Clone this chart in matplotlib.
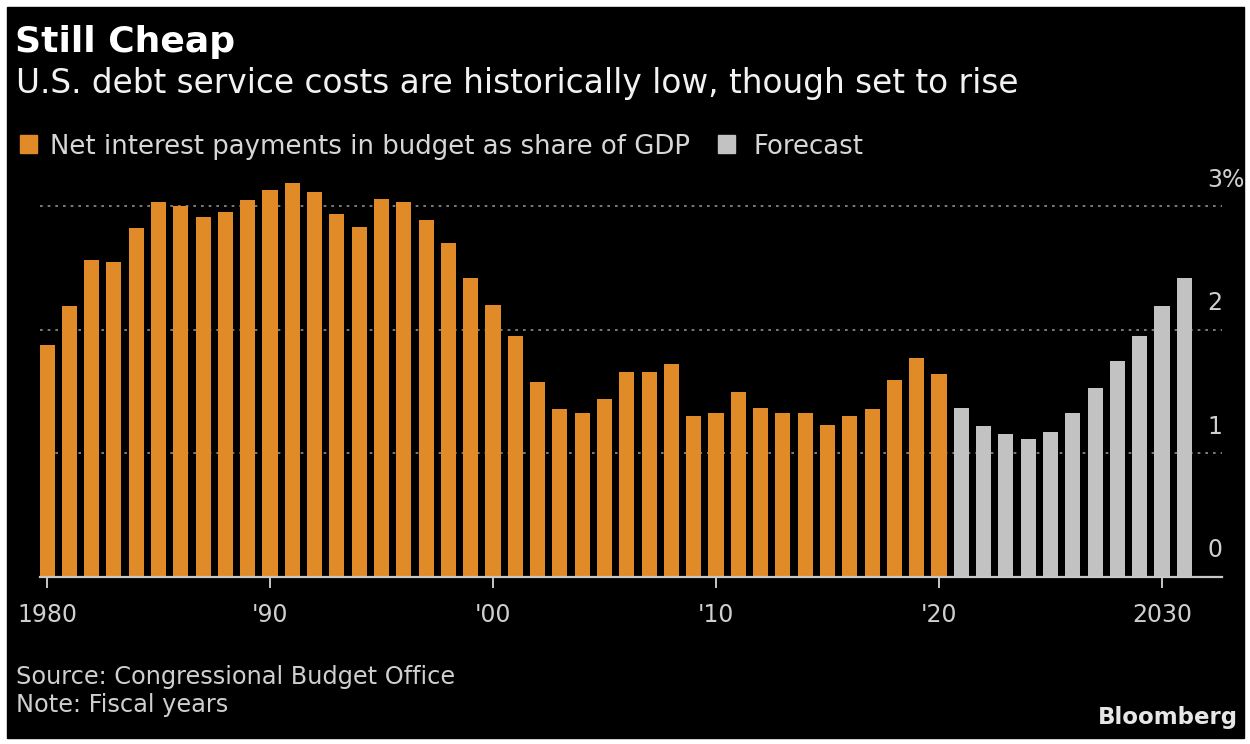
import numpy as np
import matplotlib
matplotlib.use("Agg")
import matplotlib.pyplot as plt
from matplotlib.patches import Rectangle
import matplotlib.transforms as mtransforms

W, H = 1250, 744
ORANGE = "#E08B27"
GREY = "#C2C2C2"

# net interest payments as share of GDP (%)
years_hist = np.arange(1980, 2021)
share_hist = [1.88, 2.19, 2.56, 2.55, 2.82, 3.03, 3.00, 2.91, 2.95, 3.05,
              3.13, 3.19, 3.11, 2.94, 2.83, 3.06, 3.03, 2.89, 2.70, 2.42,
              2.20, 1.95, 1.58, 1.36, 1.33, 1.44, 1.66, 1.66, 1.72, 1.30,
              1.33, 1.50, 1.37, 1.33, 1.33, 1.23, 1.30, 1.36, 1.59, 1.77,
              1.64]
years_fc = np.arange(2021, 2032)
share_fc = [1.37, 1.22, 1.16, 1.12, 1.17, 1.33, 1.53, 1.75, 1.95, 2.19, 2.42]

xtick_pos = [1980, 1990, 2000, 2010, 2020, 2030]
xtick_lab = ["1980", "'90", "'00", "'10", "'20", "2030"]
ytick_pos = [0, 1, 2, 3]
ytick_lab = ["0", "1", "2", "3%"]

plt.rcParams["font.family"] = ["DejaVu Sans"]

def fx(px):
    return px / W

def fy(py):
    return 1 - py / H

fig = plt.figure(figsize=(W / 100, H / 100), dpi=100, facecolor="white")
fig.add_artist(Rectangle((fx(7), fy(738)), fx(1244) - fx(7), fy(7) - fy(738),
                         transform=fig.transFigure, color="black", zorder=0))

ax = fig.add_axes([fx(40), fy(577), fx(1222) - fx(40), fy(169) - fy(577)])
ax.set_facecolor("none")
ax.bar(years_hist, share_hist, width=0.68, color=ORANGE, zorder=2)
ax.bar(years_fc, share_fc, width=0.68, color=GREY, zorder=2)
ax.set_xlim(1979.686, 2032.69)
ax.set_ylim(0, 3.3)

for v in ytick_pos[1:]:
    ax.axhline(v, color="#909090", lw=1.2, ls=(0, (1.6, 3.0)), zorder=1)
blend = mtransforms.blended_transform_factory(ax.transAxes, ax.transData)
for v, lab in zip(ytick_pos, ytick_lab):
    ax.text(0.9875, v + 0.215, lab, transform=blend, ha="left", va="center",
            fontsize=17, color="#CFCFCF")
ax.set_yticks([])

for s in ("top", "right", "left"):
    ax.spines[s].set_visible(False)
ax.spines["bottom"].set_color("#C8C8C8")
ax.spines["bottom"].set_linewidth(1.6)
ax.spines["bottom"].set_zorder(3)
ax.set_xticks(xtick_pos)
ax.set_xticklabels(xtick_lab)
ax.tick_params(axis="x", direction="out", length=8, width=1.4, color="#C8C8C8",
               labelcolor="#CFCFCF", labelsize=17, pad=10.5)

# header
fig.text(fx(15), fy(52), "Still Cheap", fontsize=26, fontweight="bold",
         color="white", va="baseline", ha="left")
fig.text(fx(16), fy(93), "U.S. debt service costs are historically low, though set to rise",
         fontsize=23.6, color="#F2F2F2", va="baseline", ha="left")

# legend
fig.add_artist(Rectangle((fx(20), fy(153)), fx(17), fy(0) - fy(18),
                         transform=fig.transFigure, color=ORANGE))
fig.text(fx(50), fy(154), "Net interest payments in budget as share of GDP",
         fontsize=18.7, color="#D6D6D6", va="baseline", ha="left")
fig.add_artist(Rectangle((fx(718), fy(153)), fx(17), fy(0) - fy(18),
                         transform=fig.transFigure, color=GREY))
fig.text(fx(754), fy(154), "Forecast", fontsize=18.7, color="#D6D6D6",
         va="baseline", ha="left")

# footer
fig.text(fx(16), fy(684), "Source: Congressional Budget Office", fontsize=17.3,
         color="#CFCFCF", va="baseline", ha="left")
fig.text(fx(16), fy(712), "Note: Fiscal years", fontsize=17.3,
         color="#CFCFCF", va="baseline", ha="left")
fig.text(fx(1238), fy(724), "Bloomberg", fontsize=16.5, fontweight="bold",
         color="#E6E6E6", va="baseline", ha="right")

fig.savefig("out.png", dpi=100, facecolor=fig.get_facecolor())
